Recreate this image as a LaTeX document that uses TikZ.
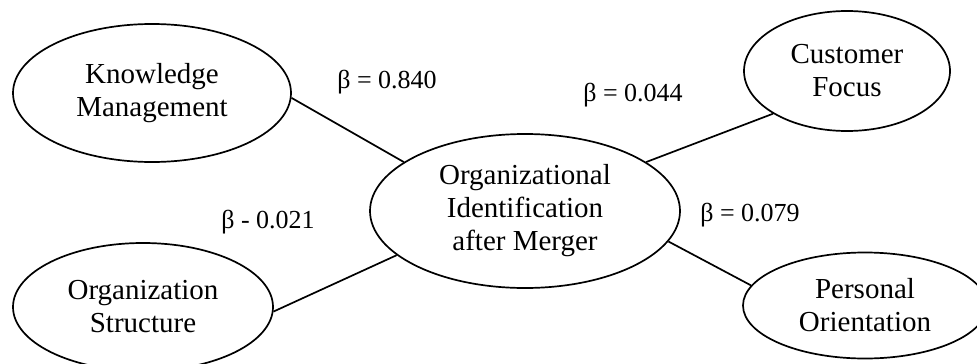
\documentclass[tikz,border=0pt]{standalone}
\usepackage{fontspec}
\setmainfont{Liberation Serif}
\usetikzlibrary{shapes.geometric}
\begin{document}
\begin{tikzpicture}[x=1pt,y=-1pt,
  construct/.style={draw, ellipse, line width=1.7pt, inner sep=0pt,
    align=center, font=\fontsize{29}{33}\selectfont},
  link/.style={line width=1.7pt},
  coef/.style={font=\fontsize{26}{30}\selectfont, inner sep=0pt}]
\useasboundingbox (0,0) rectangle (977,364);
% latent constructs
\node[construct, minimum width=278pt, minimum height=138pt] (km) at (152,93) {Knowledge\\Management};
\node[construct, minimum width=260pt, minimum height=128pt] (os) at (143,307) {Organization\\Structure};
\node[construct, minimum width=310pt, minimum height=154pt] (oi) at (525,211) {Organizational\\Identification\\after Merger};
\node[construct, minimum width=206pt, minimum height=120pt] (cf) at (847,71) {Customer\\Focus};
\node[construct, minimum width=244pt, minimum height=106pt] (po) at (865,305.5) {Personal\\Orientation};
% paths between constructs
\draw[link] (km.-2) -- (oi.158);
\draw[link] (os.-2) -- (oi.199);
\draw[link] (oi.22) -- (cf.210);
\draw[link] (oi.-12.5) -- (po.170);
% path coefficients
\node[coef] (b1) at (387,82) {β = 0.840};
\node[coef] (b2) at (268,222) {β - 0.021};
\node[coef] (b3) at (633,95) {β = 0.044};
\node[coef] (b4) at (750,215) {β = 0.079};
\end{tikzpicture}
\end{document}
